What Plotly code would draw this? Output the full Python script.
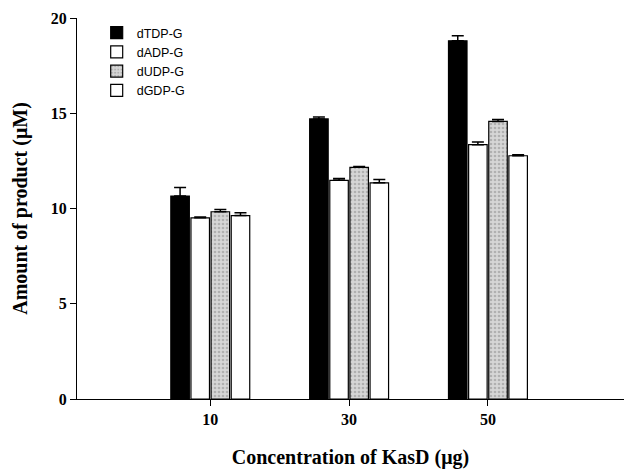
import plotly.graph_objects as go

categories = ["10", "30", "50"]
series_names = ["dTDP-G", "dADP-G", "dUDP-G", "dGDP-G"]
dTDP = [10.65, 14.70, 18.80]
dADP = [9.51, 11.48, 13.35]
dUDP = [9.83, 12.16, 14.57]
dGDP = [9.63, 11.35, 12.77]
dTDP_err = [0.45, 0.10, 0.27]
dADP_err = [0.05, 0.10, 0.14]
dUDP_err = [0.12, 0.05, 0.10]
dGDP_err = [0.15, 0.17, 0.05]
y_ticks = [0, 5, 10, 15, 20]

values = [dTDP, dADP, dUDP, dGDP]
errors = [dTDP_err, dADP_err, dUDP_err, dGDP_err]
fills = ["#000000", "#ffffff", "#c4c4c4", "#ffffff"]
patterns = [None, None, dict(shape=".", fgcolor="#8a8a8a", bgcolor="#d6d6d6", size=4, solidity=0.35), None]

fig = go.Figure()
for name, vals, errs, fc, pat in zip(series_names, values, errors, fills, patterns):
    marker = dict(color=fc, line=dict(color="#000000", width=1.2))
    if pat:
        marker["pattern"] = pat
    fig.add_trace(go.Bar(
        name=name, x=categories, y=vals, marker=marker,
        error_y=dict(type="data", array=errs, arrayminus=[0] * len(errs), symmetric=False,
                     color="#000000", thickness=1.5, width=6),
    ))

fig.update_layout(
    width=624, height=469,
    margin=dict(l=77, r=0, t=18, b=70),
    paper_bgcolor="white", plot_bgcolor="white",
    barmode="group", bargap=0.42, bargroupgap=0.08,
    font=dict(family="Liberation Serif", color="#000000"),
    showlegend=True,
    legend=dict(x=0.036, y=1.0, xanchor="left", yanchor="top",
                font=dict(family="Liberation Sans", size=12.5, color="#000000"),
                bgcolor="rgba(0,0,0,0)", tracegroupgap=0, itemwidth=30),
    xaxis=dict(
        range=[-0.96, 2.98], showline=True, linecolor="#000000", linewidth=1.2,
        ticks="outside", ticklen=6, tickcolor="#000000", showgrid=False, automargin=False,
        tickfont=dict(family="Liberation Serif", size=16, color="#000000", weight="bold"),
        title=dict(text="Concentration of KasD (μg)", standoff=29,
                   font=dict(family="Liberation Serif", size=20, color="#000000", weight="bold")),
    ),
    yaxis=dict(
        range=[0, 20], tickvals=y_ticks, showline=True, linecolor="#000000", linewidth=1.2,
        ticks="outside", ticklen=6, tickcolor="#000000", showgrid=False, zeroline=False,
        automargin=False,
        tickfont=dict(family="Liberation Serif", size=16, color="#000000", weight="bold"),
        title=dict(text="Amount of product (μM)", standoff=17,
                   font=dict(family="Liberation Serif", size=20, color="#000000", weight="bold")),
    ),
)

fig.write_html("out.html", config={"displayModeBar": False},
               post_script="document.body.style.margin='0';")
